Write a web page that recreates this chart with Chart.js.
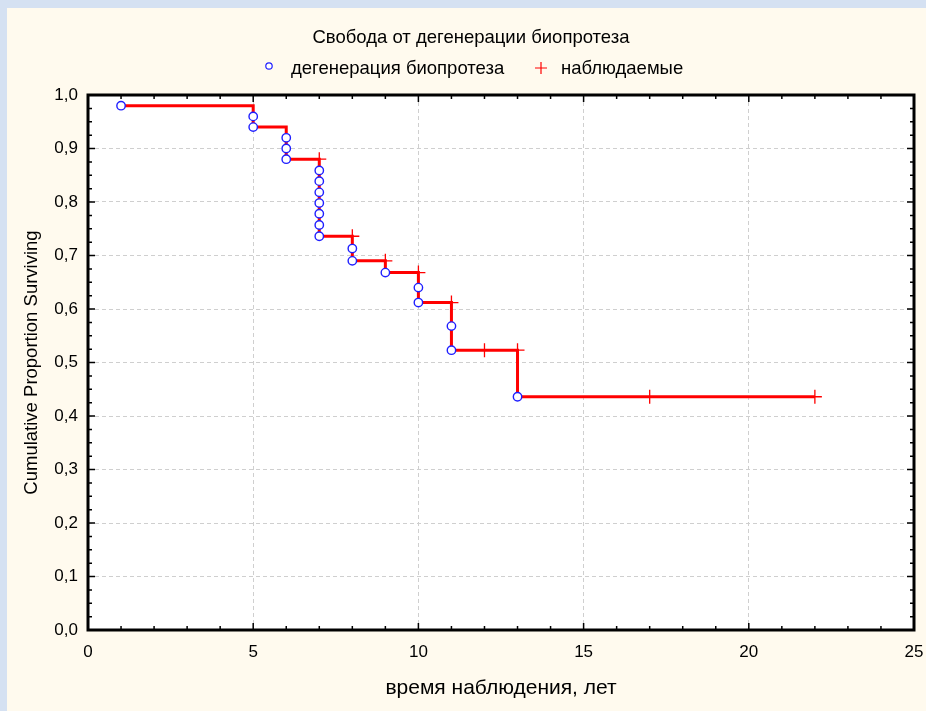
<!DOCTYPE html>
<html>
<head>
<meta charset="utf-8">
<title>Свобода от дегенерации биопротеза</title>
<script src="https://cdn.jsdelivr.net/npm/chart.js@4"></script>
<style>
  html, body { margin: 0; padding: 0; background: #FFFAEE; }
  canvas { display: block; }
</style>
</head>
<body>
<canvas id="chart" width="926" height="711"></canvas>
<script>
// Kaplan-Meier curve: step levels of the survival line
const stepTimes = [1, 5, 6, 7, 8, 9, 10, 11, 13, 22];
const stepSurvival = [0.98, 0.94, 0.88, 0.736, 0.69, 0.668, 0.612, 0.523, 0.436, 0.436];

// events (bioprosthesis degeneration), one circle per case
const eventTimes = [1, 5, 5, 6, 6, 6, 7, 7, 7, 7, 7, 7, 7, 8, 8, 9, 10, 10, 11, 11, 13];
const eventSurvival = [0.98, 0.96, 0.94, 0.92, 0.90, 0.88, 0.859, 0.839, 0.818, 0.798, 0.778, 0.757, 0.736,
  0.713, 0.69, 0.668, 0.64, 0.612, 0.568, 0.523, 0.436];

// censored observations
const censoredTimes = [7, 8, 9, 10, 11, 12, 13, 17, 22];
const censoredSurvival = [0.88, 0.736, 0.69, 0.668, 0.612, 0.523, 0.523, 0.436, 0.436];

const xTicks = [0, 5, 10, 15, 20, 25];
const yTicks = [0, 0.1, 0.2, 0.3, 0.4, 0.5, 0.6, 0.7, 0.8, 0.9, 1.0];

const chartTitle = 'Свобода от дегенерации биопротеза';
const legendLabels = ['дегенерация биопротеза', 'наблюдаемые'];
const xTitle = 'время наблюдения, лет';
const yTitle = 'Cumulative Proportion Surviving';

const FONT = "'Liberation Sans', Arial, sans-serif";
const RED = '#ff0000';
const BLUE = '#1f1fff';

const toPoints = (xs, ys) => xs.map((x, i) => ({ x: x, y: ys[i] }));

// background, frame with inward ticks, title and legend
const decorPlugin = {
    id: 'decor',
    beforeDraw(chart) {
        const { ctx, chartArea: a, width, height } = chart;
        ctx.save();
        ctx.fillStyle = '#D5E1F2';
        ctx.fillRect(0, 0, width, height);
        ctx.fillStyle = '#FFFAEE';
        ctx.fillRect(7, 8, width - 7, height - 8);
        ctx.fillStyle = '#ffffff';
        ctx.fillRect(a.left, a.top, a.right - a.left, a.bottom - a.top);
        ctx.restore();
    },
    afterDraw(chart) {
        const { ctx, chartArea: a } = chart;
        const xs = chart.scales.x;
        const ys = chart.scales.y;
        ctx.save();

        // ticks on all four sides, pointing into the plot
        ctx.strokeStyle = '#000';
        ctx.lineWidth = 1.5;
        ctx.beginPath();
        for (let v = 0; v <= 25; v++) {
            const px = xs.getPixelForValue(v);
            const len = v % 5 === 0 ? 7 : 4;
            ctx.moveTo(px, a.bottom);
            ctx.lineTo(px, a.bottom - len);
            ctx.moveTo(px, a.top);
            ctx.lineTo(px, a.top + len);
        }
        for (let i = 0; i <= 40; i++) {
            const py = ys.getPixelForValue(i * 0.025);
            const len = i % 4 === 0 ? 7 : 4;
            ctx.moveTo(a.left, py);
            ctx.lineTo(a.left + len, py);
            ctx.moveTo(a.right, py);
            ctx.lineTo(a.right - len, py);
        }
        ctx.stroke();

        ctx.lineWidth = 3;
        ctx.strokeRect(a.left, a.top, a.right - a.left, a.bottom - a.top);

        // title
        ctx.fillStyle = '#000';
        ctx.font = '18.5px ' + FONT;
        ctx.textBaseline = 'middle';
        ctx.textAlign = 'center';
        ctx.fillText(chartTitle, 471, 38);

        // legend
        ctx.textAlign = 'left';
        ctx.strokeStyle = BLUE;
        ctx.fillStyle = '#fff';
        ctx.lineWidth = 1.2;
        ctx.beginPath();
        ctx.arc(269, 66, 3.2, 0, Math.PI * 2);
        ctx.fill();
        ctx.stroke();
        ctx.fillStyle = '#000';
        ctx.fillText(legendLabels[0], 291, 69);

        ctx.strokeStyle = RED;
        ctx.beginPath();
        ctx.moveTo(535, 68); ctx.lineTo(547, 68);
        ctx.moveTo(541, 62); ctx.lineTo(541, 74);
        ctx.stroke();
        ctx.fillText(legendLabels[1], 561, 69);

        ctx.restore();
    }
};

const ctx = document.getElementById('chart').getContext('2d');
new Chart(ctx, {
    type: 'scatter',
    data: {
        datasets: [
            {
                label: legendLabels[0],
                data: toPoints(eventTimes, eventSurvival),
                pointStyle: 'circle',
                pointRadius: 4.2,
                borderWidth: 1.4,
                borderColor: BLUE,
                backgroundColor: '#ffffff',
                order: 0
            },
            {
                label: legendLabels[1],
                data: toPoints(censoredTimes, censoredSurvival),
                pointStyle: 'cross',
                pointRadius: 7,
                borderWidth: 1.3,
                borderColor: RED,
                order: 1
            },
            {
                label: 'survival',
                type: 'line',
                data: toPoints(stepTimes, stepSurvival),
                stepped: true,
                borderColor: RED,
                borderWidth: 3,
                pointRadius: 0,
                fill: false,
                order: 2
            }
        ]
    },
    options: {
        responsive: false,
        animation: false,
        events: [],
        layout: {
            padding: { top: 95, right: 12, bottom: 0, left: 0 }
        },
        plugins: {
            legend: { display: false },
            title: { display: false },
            tooltip: { enabled: false }
        },
        scales: {
            x: {
                type: 'linear',
                min: 0,
                max: 25,
                afterFit: (scale) => {
                    scale.height = 81;
                    scale.paddingLeft = 0;
                    scale.paddingRight = 0;
                },
                afterBuildTicks: (scale) => { scale.ticks = xTicks.map(v => ({ value: v })); },
                ticks: {
                    color: '#000',
                    padding: 12,
                    font: { family: FONT, size: 17 }
                },
                grid: {
                    color: '#cfcfcf',
                    lineWidth: 1,
                    drawTicks: false
                },
                border: { display: false, dash: [4, 3] },
                title: {
                    display: true,
                    text: xTitle,
                    color: '#000',
                    font: { family: FONT, size: 21 },
                    padding: { top: 0, bottom: 10 }
                }
            },
            y: {
                type: 'linear',
                min: 0,
                max: 1,
                afterFit: (scale) => { scale.width = 88; },
                afterBuildTicks: (scale) => { scale.ticks = yTicks.map(v => ({ value: v })); },
                ticks: {
                    color: '#000',
                    padding: 10,
                    font: { family: FONT, size: 17 },
                    callback: (v) => v.toFixed(1).replace('.', ',')
                },
                grid: {
                    color: '#cfcfcf',
                    lineWidth: 1,
                    drawTicks: false
                },
                border: { display: false, dash: [4, 3] },
                title: {
                    display: true,
                    text: yTitle,
                    color: '#000',
                    font: { family: FONT, size: 18.5 },
                    padding: { top: 21, bottom: 0 }
                }
            }
        }
    },
    plugins: [decorPlugin]
});
</script>
</body>
</html>
